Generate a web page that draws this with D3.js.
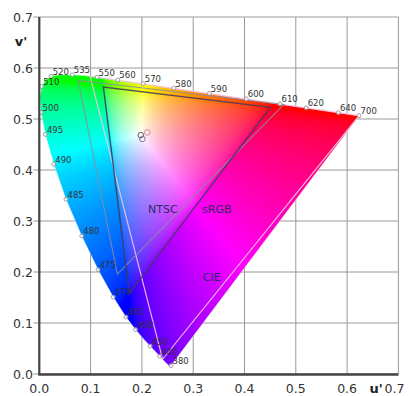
<!DOCTYPE html>
<html>
<head>
<meta charset="utf-8">
<script src="https://cdn.jsdelivr.net/npm/d3@7"></script>
<style>
  html, body { margin: 0; padding: 0; background: #fff; }
  svg { display: block; }
  text { font-family: "DejaVu Sans", Verdana, sans-serif; }
</style>
</head>
<body>
<svg id="chart" width="410" height="396"></svg>
<script>
// Spectral locus of the CIE 1976 UCS diagram (u', v') by wavelength in nm
const wavelengths = [380,390,400,410,420,430,440,445,450,455,460,465,470,475,480,485,490,495,500,505,
  510,515,520,525,530,535,540,545,550,555,560,565,570,575,580,585,590,595,600,605,610,615,620,625,630,
  640,650,660,680,700];
const locusU = [0.2568,0.2564,0.2557,0.2545,0.2522,0.2461,0.2347,0.2266,0.2161,0.2033,0.1877,0.1690,0.1441,
  0.1147,0.0828,0.0521,0.0282,0.0119,0.0035,0.0014,0.0046,0.0123,0.0231,0.0360,0.0501,0.0643,0.0792,0.0953,
  0.1127,0.1319,0.1531,0.1766,0.2026,0.2312,0.2623,0.2960,0.3315,0.3681,0.4035,0.4379,0.4692,0.4968,0.5203,
  0.5399,0.5565,0.5830,0.6005,0.6109,0.6199,0.6234];
const locusV = [0.0166,0.0163,0.0159,0.0159,0.0169,0.0226,0.0350,0.0437,0.0549,0.0688,0.0871,0.1119,0.1510,
  0.2044,0.2708,0.3427,0.4117,0.4698,0.5131,0.5432,0.5638,0.5770,0.5837,0.5861,0.5868,0.5865,0.5856,0.5841,
  0.5821,0.5796,0.5766,0.5732,0.5694,0.5651,0.5604,0.5554,0.5501,0.5446,0.5393,0.5342,0.5296,0.5254,0.5219,
  0.5190,0.5165,0.5125,0.5099,0.5084,0.5070,0.5065];

// Wavelengths that get a marker and a label
const labelledWavelengths = [380,440,450,460,465,470,475,480,485,490,495,500,510,520,535,550,560,570,580,
  590,600,610,620,640,700];

// Gamut triangles: primaries R, G, B
const gamutNames = ["CIE", "NTSC", "sRGB"];
const gamutU = [[0.6234,0.0990,0.2403],[0.4769,0.0757,0.1522],[0.4507,0.1250,0.1754]];
const gamutV = [[0.5065,0.5837,0.0289],[0.5285,0.5757,0.1957],[0.5229,0.5625,0.1579]];

// White points: D65, E, C
const whiteNames = ["D65", "E", "C"];
const whiteU = [0.1978, 0.2105, 0.2009];
const whiteV = [0.4683, 0.4737, 0.4609];

// Axis ticks
const ticks = [0, 0.1, 0.2, 0.3, 0.4, 0.5, 0.6, 0.7];
const tickLabels = ["0.0","0.1","0.2","0.3","0.4","0.5","0.6","0.7"];

const svg = d3.select("#chart");
const x = d3.scaleLinear().domain([0, 0.7]).range([39.3, 398.4]);
const y = d3.scaleLinear().domain([0, 0.7]).range([374, 17]);

// Grid
const grid = svg.append("g");
grid.selectAll("line.h").data(ticks).join("line")
  .attr("x1", x(0) - 6).attr("x2", x(0.7))
  .attr("y1", d => y(d)).attr("y2", d => y(d))
  .attr("stroke", "#9a9a9a").attr("stroke-width", 1);
grid.selectAll("line.v").data(ticks).join("line")
  .attr("x1", d => x(d)).attr("x2", d => x(d))
  .attr("y1", y(0.7)).attr("y2", y(0))
  .attr("stroke", "#9a9a9a").attr("stroke-width", 1);

// Colour fill of the chromaticity region
const x0 = Math.floor(x(0)), x1 = Math.ceil(x(0.7));
const y0 = Math.floor(y(0.7)), y1 = Math.ceil(y(0));
const cw = x1 - x0, ch = y1 - y0;
const canvas = document.createElement("canvas");
canvas.width = cw; canvas.height = ch;
const ctx = canvas.getContext("2d");
const img = ctx.createImageData(cw, ch);
const gam = c => c <= 0.0031308 ? 12.92 * c : 1.055 * Math.pow(c, 1 / 2.4) - 0.055;
for (let j = 0; j < ch; j++) {
  for (let i = 0; i < cw; i++) {
    const u = x.invert(x0 + i + 0.5), v = Math.max(1e-4, y.invert(y0 + j + 0.5));
    const den = 6 * u - 16 * v + 12;
    const cx = 9 * u / den, cy = 4 * v / den;
    const X = cx / cy, Y = 1, Z = (1 - cx - cy) / cy;
    let r = 3.2406 * X - 1.5372 * Y - 0.4986 * Z;
    let g = -0.9689 * X + 1.8758 * Y + 0.0415 * Z;
    let b = 0.0557 * X - 0.2040 * Y + 1.0570 * Z;
    r = Math.max(0, r); g = Math.max(0, g); b = Math.max(0, b);
    const m = Math.max(r, g, b) || 1;
    const k = (j * cw + i) * 4;
    img.data[k] = 255 * gam(r / m);
    img.data[k + 1] = 255 * gam(g / m);
    img.data[k + 2] = 255 * gam(b / m);
    img.data[k + 3] = 255;
  }
}
ctx.putImageData(img, 0, 0);

const locus = wavelengths.map((w, i) => [x(locusU[i]), y(locusV[i])]);
const locusPath = d3.line()(locus) + "Z";
svg.append("clipPath").attr("id", "locusClip").append("path").attr("d", locusPath);
svg.append("image")
  .attr("x", x0).attr("y", y0).attr("width", cw).attr("height", ch)
  .attr("preserveAspectRatio", "none")
  .attr("href", canvas.toDataURL())
  .attr("clip-path", "url(#locusClip)");
svg.append("path").attr("d", locusPath)
  .attr("fill", "none").attr("stroke", "#ffffff").attr("stroke-opacity", 0.35).attr("stroke-width", 1);

// Gamut triangles
const gamutStyle = {
  "CIE":  { stroke: "#f4c4e6", width: 1.2, opacity: 0.9 },
  "NTSC": { stroke: "#8c8c9c", width: 1.1, opacity: 0.85 },
  "sRGB": { stroke: "#463a66", width: 1.4, opacity: 0.9 }
};
gamutNames.forEach((name, gi) => {
  const pts = gamutU[gi].map((u, k) => [x(u), y(gamutV[gi][k])]);
  svg.append("path").attr("d", d3.line()(pts) + "Z")
    .attr("fill", "none")
    .attr("stroke", gamutStyle[name].stroke)
    .attr("stroke-width", gamutStyle[name].width)
    .attr("stroke-opacity", gamutStyle[name].opacity);
});

// Gamut names
const gamutLabelAt = { "NTSC": [0.241, 0.324], "sRGB": [0.346, 0.324], "CIE": [0.336, 0.189] };
gamutNames.forEach(name => {
  svg.append("text")
    .attr("x", x(gamutLabelAt[name][0])).attr("y", y(gamutLabelAt[name][1]))
    .attr("text-anchor", "middle").attr("dy", "0.35em")
    .attr("font-size", 11).attr("fill", "#2c2a66")
    .text(name);
});

// White points
const whiteStroke = ["#5a5a6a", "#c98a9a", "#7a7a9a"];
whiteNames.forEach((n, i) => {
  svg.append("circle")
    .attr("cx", x(whiteU[i])).attr("cy", y(whiteV[i])).attr("r", 2.8)
    .attr("fill", "none").attr("stroke", whiteStroke[i]).attr("stroke-width", 1);
});

// Wavelength markers and labels
const marks = labelledWavelengths.map(w => {
  const i = wavelengths.indexOf(w);
  return { w, u: locusU[i], v: locusV[i] };
});
svg.append("g").selectAll("circle").data(marks).join("circle")
  .attr("cx", d => x(d.u)).attr("cy", d => y(d.v)).attr("r", 2)
  .attr("fill", "#ffffff").attr("fill-opacity", 0.7)
  .attr("stroke", "#8a8a8a").attr("stroke-width", 0.8);
svg.append("g").selectAll("text").data(marks).join("text")
  .attr("x", d => x(d.u) + 1.5).attr("y", d => y(d.v) - 1.5)
  .attr("font-size", 8.5).attr("fill", "#333")
  .text(d => d.w);

// Frame: top and right border, dark left and bottom axes
svg.append("line").attr("x1", x(0)).attr("x2", x(0)).attr("y1", y(0.7)).attr("y2", y(0) + 1)
  .attr("stroke", "#444").attr("stroke-width", 2.2);
svg.append("line").attr("x1", x(0) - 1).attr("x2", x(0.7)).attr("y1", y(0) + 0.5).attr("y2", y(0) + 0.5)
  .attr("stroke", "#444").attr("stroke-width", 2.5);

// Tick labels
svg.append("g").selectAll("text").data(ticks).join("text")
  .attr("x", 33).attr("y", d => y(d)).attr("dy", "0.36em")
  .attr("text-anchor", "end").attr("font-size", 12.5).attr("fill", "#333")
  .text((d, i) => tickLabels[i]);
svg.append("g").selectAll("text").data(ticks).join("text")
  .attr("x", d => x(d) + (d === 0.7 ? -4 : 0)).attr("y", 393)
  .attr("text-anchor", "middle").attr("font-size", 12.5).attr("fill", "#333")
  .text((d, i) => tickLabels[i]);

// Axis titles
svg.append("text").attr("x", 21).attr("y", 46).attr("text-anchor", "middle")
  .attr("font-size", 13).attr("font-weight", "bold").attr("fill", "#222").text("v'");
svg.append("text").attr("x", 376).attr("y", 393).attr("text-anchor", "middle")
  .attr("font-size", 13).attr("font-weight", "bold").attr("fill", "#222").text("u'");
</script>
</body>
</html>
